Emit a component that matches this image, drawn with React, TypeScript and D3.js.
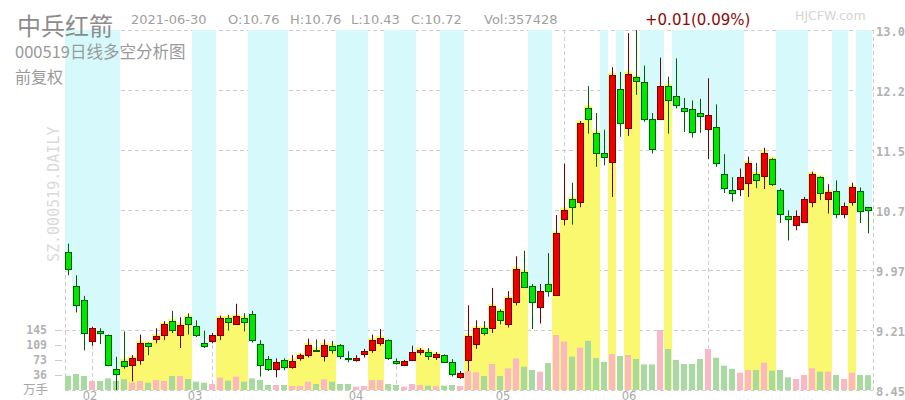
import React from "react";
import * as d3 from "d3";

// daily bars, 2021-01-27 .. 2021-06-30 (price in CNY, volume in 万手)
const opens = [
  10.19, 9.76, 9.59, 9.07, 9.2, 9.14, 8.72, 8.82, 8.76, 8.83, 9.04, 9.1, 9.14, 9.32, 9.14, 9.37, 9.26, 9.04, 9.07, 9.15,
  9.36, 9.29, 9.36, 9.41, 9.03, 8.84, 8.72, 8.83, 8.74, 8.86, 8.89, 8.96, 8.88, 9.01, 9.02, 8.86, 8.83, 8.91, 8.96, 9.05,
  9.08, 8.82, 8.77, 8.83, 8.93, 8.93, 8.87, 8.89, 8.81, 8.62, 8.83, 9.03, 9.23, 9.23, 9.45, 9.29, 9.56, 9.94, 9.76, 9.5,
  9.79, 9.65, 10.61, 10.86, 10.82, 12.02, 11.7, 11.44, 11.33, 12.25, 11.76, 12.4, 12.34, 11.87, 11.88, 12.29, 12.16, 12.01, 12.0, 11.95,
  11.75, 11.77, 11.18, 10.98, 10.99, 11.06, 11.18, 11.15, 11.37, 10.98, 10.65, 10.54, 10.57, 10.83, 11.14, 10.86, 10.96, 10.67, 10.82, 10.96,
  10.76,
];
const highs = [
  10.3, 9.9, 9.64, 9.25, 9.23, 9.15, 8.87, 9.19, 8.89, 9.15, 9.05, 9.23, 9.32, 9.45, 9.37, 9.42, 9.33, 9.2, 9.17, 9.39,
  9.4, 9.54, 9.42, 9.45, 9.08, 8.88, 8.85, 8.85, 8.89, 8.91, 9.1, 9.09, 9.09, 9.07, 9.03, 8.94, 8.89, 8.97, 9.15, 9.22,
  9.09, 8.85, 8.83, 9.01, 8.98, 8.98, 8.93, 8.9, 8.84, 8.69, 9.52, 9.33, 9.32, 9.74, 9.47, 9.7, 10.14, 10.21, 9.79, 9.79,
  10.18, 10.66, 11.31, 11.07, 11.85, 12.29, 11.95, 11.74, 12.53, 12.47, 12.96, 13.0, 12.55, 11.95, 12.65, 12.41, 12.64, 12.14, 12.11, 12.13,
  12.39, 12.06, 11.43, 11.14, 11.25, 11.4, 11.32, 11.51, 11.38, 11.0, 10.72, 10.72, 10.89, 11.21, 11.15, 11.05, 11.1, 10.82, 11.07, 11.01,
  10.76,
];
const lows = [
  9.9, 9.43, 8.95, 9.01, 9.03, 8.75, 8.45, 8.72, 8.56, 8.77, 8.89, 9.04, 9.08, 9.17, 8.98, 9.15, 9.12, 8.98, 9.04, 9.08,
  9.2, 9.28, 9.19, 9.05, 8.62, 8.69, 8.61, 8.7, 8.72, 8.82, 8.86, 8.93, 8.81, 8.91, 8.84, 8.8, 8.81, 8.86, 8.92, 9.01,
  8.83, 8.77, 8.76, 8.82, 8.89, 8.83, 8.83, 8.79, 8.62, 8.59, 8.69, 8.97, 9.14, 9.17, 9.28, 9.24, 9.52, 9.74, 9.22, 9.29,
  9.63, 9.65, 10.53, 10.54, 10.76, 11.69, 11.27, 11.29, 10.89, 11.65, 11.66, 12.18, 11.84, 11.44, 11.87, 11.69, 12.01, 11.71, 11.64, 11.7,
  11.37, 11.27, 10.94, 10.83, 10.9, 10.89, 11.0, 10.99, 11.03, 10.56, 10.34, 10.47, 10.56, 10.76, 10.85, 10.68, 10.62, 10.62, 10.78, 10.56,
  10.43,
];
const closes = [
  9.98, 9.52, 9.17, 9.23, 9.17, 8.77, 8.65, 8.75, 8.85, 9.05, 9.0, 9.13, 9.28, 9.21, 9.27, 9.28, 9.15, 9.01, 9.15, 9.36,
  9.31, 9.38, 9.31, 9.08, 8.77, 8.72, 8.81, 8.74, 8.82, 8.89, 9.02, 8.95, 9.02, 8.96, 8.88, 8.84, 8.86, 8.94, 9.08, 9.11,
  8.86, 8.79, 8.82, 8.93, 8.96, 8.88, 8.9, 8.81, 8.65, 8.66, 9.13, 9.23, 9.17, 9.51, 9.33, 9.61, 9.98, 9.75, 9.56, 9.7,
  9.7, 10.43, 10.73, 10.76, 11.83, 11.87, 11.45, 11.4, 12.43, 11.83, 12.45, 12.36, 11.88, 11.5, 12.29, 12.11, 12.05, 11.98, 11.71, 11.91,
  11.92, 11.32, 11.0, 10.94, 11.14, 11.32, 11.11, 11.45, 11.05, 10.67, 10.61, 10.65, 10.86, 11.18, 10.94, 10.95, 10.67, 10.77, 11.01, 10.71,
  10.72,
];
const vols = [
  34.6, 38.7, 33.8, 21.8, 21.8, 28.2, 21.8, 25.8, 17.7, 21.8, 17.7, 24.2, 21.8, 33.8, 33.8, 26.6, 20.1, 17.7, 14.5, 29.8,
  22.6, 32.2, 20.1, 28.2, 24.2, 12.1, 12.1, 12.1, 9.7, 9.7, 20.1, 14.5, 25.8, 20.1, 14.5, 14.5, 8.0, 9.7, 24.2, 24.2,
  14.5, 12.1, 8.0, 14.5, 12.1, 10.5, 9.7, 10.5, 12.1, 9.7, 46.0, 43.0, 33.8, 62.8, 33.8, 52.4, 76.6, 56.4, 48.3, 44.3,
  65.0, 132.9, 116.8, 80.6, 102.0, 119.0, 77.0, 68.0, 87.0, 82.0, 84.6, 74.9, 62.0, 62.0, 145.0, 99.0, 72.5, 62.8, 62.8, 74.9,
  99.0, 78.0, 58.8, 50.8, 41.9, 48.3, 48.3, 66.0, 46.7, 48.3, 30.7, 26.6, 36.3, 52.4, 44.3, 44.3, 36.3, 26.6, 41.9, 36.3,
  35.74,
];

// runs of bars in the "空" (bearish) state, every other bar is "多"
const bearRuns = [
  [0, 6], [16, 18], [23, 27], [34, 37], [40, 43], [47, 49], [58, 60], [67, 67], [69, 69],
  [72, 74], [76, 84], [89, 92], [96, 97], [99, 100],
];

const monthLabels = ["02", "03", "04", "05", "06"];
const monthStarts = [3, 18, 41, 62, 80];

const priceTicks = [13.0, 12.2417, 11.4833, 10.725, 9.9667, 9.2083, 8.45];
const priceTickLabels = ["13.0", "12.2", "11.5", "10.7", "9.97", "9.21", "8.45"];
const volTicks = [36, 73, 109, 145];

const W = 905;
const H = 400;
const PLOT = { left: 65, right: 873, top: 30, bottom: 390 };

const UP_FILL = "#ee0000";
const UP_LINE = "#7a0000";
const DN_FILL = "#00e600";
const DN_LINE = "#006000";
const BEAR_BG = "#d6fafc";
const BULL_BG = "#f9f86f";
const GRID = "#cccccc";

export default function App() {
  const n = closes.length;
  const idx = d3.range(n);

  const x = d3.scaleLinear().domain([0, n - 1]).range([68, 868]);
  const labelX = d3.scaleLinear().domain([0, n - 1]).range([69, 769]);
  const y = d3.scaleLinear().domain([8.45, 13.0]).range([PLOT.bottom, PLOT.top]);
  const v = d3.scaleLinear().domain([0, 145]).range([PLOT.bottom, 330]);

  const isBear = (i: number) => bearRuns.some(([a, b]) => i >= a && i <= b);

  const px = (val: number) => Math.round(val) + 0.5;

  return (
    <svg
      width={W}
      height={H}
      style={{ position: "absolute", left: 0, top: 0, background: "#fff" }}
      fontFamily="DejaVu Sans"
    >
      {/* grid */}
      <g stroke={GRID} strokeDasharray="4,3" strokeWidth={1}>
        {priceTicks.map((t) => (
          <line key={t} x1={PLOT.left} x2={PLOT.right} y1={px(y(t))} y2={px(y(t))} />
        ))}
        {monthStarts.map((m) => (
          <line key={m} x1={px(x(m))} x2={px(x(m))} y1={PLOT.top} y2={PLOT.bottom} />
        ))}
        <line x1={PLOT.left + 0.5} x2={PLOT.left + 0.5} y1={PLOT.top} y2={PLOT.bottom} />
        <line x1={PLOT.right + 0.5} x2={PLOT.right + 0.5} y1={PLOT.top} y2={PLOT.bottom} />
      </g>

      {/* 多空 background */}
      <g>
        {idx.map((i) => {
          const x0 = Math.max(PLOT.left, x(i) - 4);
          const x1 = Math.min(PLOT.right, x(i) + 4);
          if (isBear(i)) {
            const yb = y(Math.min(opens[i], closes[i])) + 2;
            return <rect key={i} x={x0} width={x1 - x0} y={PLOT.top} height={yb - PLOT.top} fill={BEAR_BG} />;
          }
          const yt = y(Math.max(opens[i], closes[i])) - 2;
          return <rect key={i} x={x0} width={x1 - x0} y={yt} height={PLOT.bottom - yt} fill={BULL_BG} />;
        })}
      </g>

      {/* volume */}
      <g>
        {idx.map((i) => (
          <rect
            key={i}
            x={x(i) - 3}
            width={6}
            y={v(vols[i])}
            height={PLOT.bottom - v(vols[i])}
            fill={closes[i] >= opens[i] ? "#fbb8c4" : "#a7d9a1"}
          />
        ))}
      </g>

      {/* candles */}
      <g>
        {idx.map((i) => {
          const up = closes[i] >= opens[i];
          const top = px(y(Math.max(opens[i], closes[i])));
          const bot = px(y(Math.min(opens[i], closes[i])));
          const line = up ? UP_LINE : DN_LINE;
          return (
            <g key={i}>
              <line x1={x(i) + 0.5} x2={x(i) + 0.5} y1={y(highs[i])} y2={y(lows[i])} stroke={line} strokeWidth={1} />
              <rect
                x={x(i) - 2.5}
                width={6}
                y={top}
                height={Math.max(1, bot - top)}
                fill={up ? UP_FILL : DN_FILL}
                stroke={line}
                strokeWidth={1}
              />
            </g>
          );
        })}
      </g>

      {/* watermark */}
      <text
        transform="translate(59,262) rotate(-90)"
        fontFamily="DejaVu Sans Mono"
        fontSize={15}
        fill="#dadada"
      >
        SZ.000519.DAILY
      </text>

      {/* price axis */}
      <g fontFamily="DejaVu Sans Mono" fontWeight="bold" fontSize={12} fill="#b2b2b2">
        {priceTicks.map((t, k) => (
          <text key={t} x={876} y={Math.round(y(t)) + 6}>
            {priceTickLabels[k]}
          </text>
        ))}
      </g>

      {/* volume axis */}
      <g fontFamily="DejaVu Sans Mono" fontWeight="bold" fontSize={11.5} fill="#b2b2b2" textAnchor="end">
        {volTicks.map((t) => (
          <text key={t} x={47} y={Math.round(v(t)) + 4}>
            {t}
          </text>
        ))}
      </g>
      <g stroke={GRID}>
        {volTicks.map((t) => (
          <line key={t} x1={55} x2={62} y1={px(v(t))} y2={px(v(t))} />
        ))}
      </g>
      <text x={23} y={394} fontFamily="Noto Sans CJK SC" fontSize={12.5} fill="#a8a8a8">
        万手
      </text>

      {/* month labels */}
      <g fontSize={11.5} fill="#a8a8a8" textAnchor="middle">
        {monthStarts.map((m, k) => (
          <text key={m} x={labelX(m)} y={399.5}>
            {monthLabels[k]}
          </text>
        ))}
      </g>

      {/* header */}
      <text x={17} y={35} fontFamily="Noto Sans CJK SC" fontSize={24} fill="#8c8c8c">
        中兵红箭
      </text>
      <text x={15} y={58} fontFamily="Noto Sans CJK SC" fontSize={16.5} fill="#9a9a9a">
        000519日线多空分析图
      </text>
      <text x={15} y={83} fontFamily="Noto Sans CJK SC" fontSize={16} fill="#9a9a9a">
        前复权
      </text>
      <g fontSize={13} fill="#a0a0a0">
        <text x={131} y={24}>2021-06-30</text>
        <text x={228} y={24}>O:10.76</text>
        <text x={290} y={24}>H:10.76</text>
        <text x={351} y={24}>L:10.43</text>
        <text x={411} y={24}>C:10.72</text>
        <text x={484} y={24}>Vol:357428</text>
      </g>
      <text x={645} y={25} fontSize={15} fill="#8a0a0a">
        +0.01(0.09%)
      </text>
      <text x={795} y={20} fontSize={12.5} fill="#d4d4d4">
        HJCFW.com
      </text>
    </svg>
  );
}
